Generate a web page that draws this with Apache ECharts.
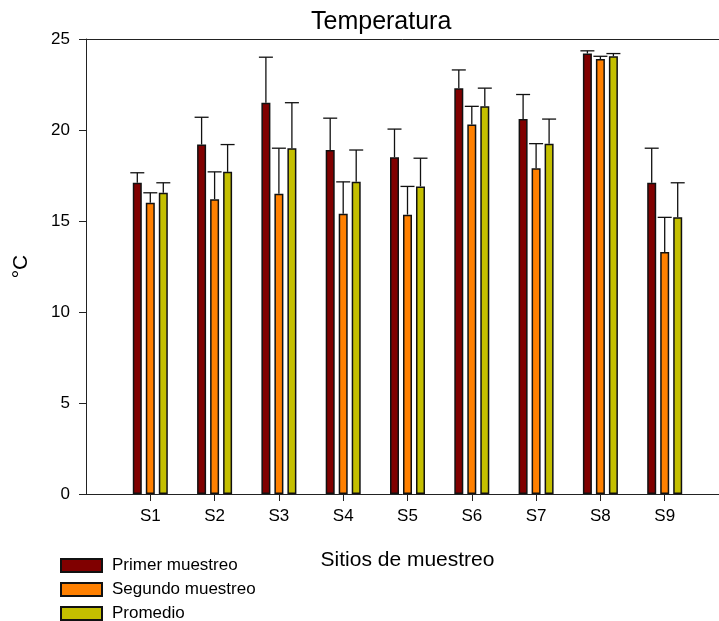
<!DOCTYPE html>
<html>
<head>
<meta charset="utf-8">
<title>Temperatura</title>
<script src="https://cdn.jsdelivr.net/npm/echarts@6/dist/echarts.min.js"></script>
<style>
  html, body { margin: 0; padding: 0; background: #fff; }
  #chart { width: 719px; height: 621px; }
</style>
</head>
<body>
<div id="chart"></div>
<script>
// Sampling sites and temperatures (°C)
const sites = ['S1', 'S2', 'S3', 'S4', 'S5', 'S6', 'S7', 'S8', 'S9'];
const seriesNames = ['Primer muestreo', 'Segundo muestreo', 'Promedio'];
const primer = [17.1, 19.2, 21.5, 18.9, 18.5, 22.3, 20.6, 24.2, 17.1];
const segundo = [16.0, 16.2, 16.5, 15.4, 15.35, 20.3, 17.9, 23.9, 13.3];
const promedio = [16.55, 17.7, 19.0, 17.15, 16.9, 21.3, 19.25, 24.05, 15.2];
// Upper error (standard deviation) for each bar
const errPrimer = [0.55, 1.5, 2.5, 1.75, 1.55, 1.0, 1.35, 0.15, 1.9];
const errSegundo = [0.55, 1.5, 2.5, 1.75, 1.55, 1.0, 1.35, 0.15, 1.9];
const errPromedio = [0.55, 1.5, 2.5, 1.75, 1.55, 1.0, 1.35, 0.15, 1.9];
const yTicks = { min: 0, max: 25, interval: 5 };

const colors = ['#800000', '#FF8000', '#C4BF00'];
const FONT = '"Liberation Sans", Arial, sans-serif';

// One empty slot on each side so the sites sit inside a wider axis
const axisCats = [''].concat(sites, ['']);
const pad = arr => [null].concat(arr, [null]);

const BAR_W = 9;
const PITCH = 13;
const offsets = [-PITCH, 0, PITCH];

function errorSeries(values, errs, k) {
  const data = values.map((v, i) => [i + 1, v, errs[i]]);
  return {
    type: 'custom',
    name: seriesNames[k] + ' error',
    z: 1,
    silent: true,
    renderItem: function (params, api) {
      const idx = api.value(0);
      const top = api.value(1);
      const e = api.value(2);
      const p0 = api.coord([idx, top]);
      const p1 = api.coord([idx, top + e]);
      const x = p0[0] + offsets[k];
      const half = 7;
      const style = { stroke: '#111', lineWidth: 1.3 };
      return {
        type: 'group',
        children: [
          { type: 'line', shape: { x1: x, y1: p0[1], x2: x, y2: p1[1] }, style: style },
          { type: 'line', shape: { x1: x - half, y1: p1[1], x2: x + half, y2: p1[1] }, style: style }
        ]
      };
    },
    data: data
  };
}

function barSeries(values, k) {
  return {
    type: 'bar',
    name: seriesNames[k],
    z: 2,
    barWidth: BAR_W,
    barGap: ((PITCH - BAR_W) / BAR_W * 100) + '%',
    itemStyle: { color: colors[k], borderColor: '#111', borderWidth: 1.5 },
    data: pad(values)
  };
}

// One legend block per row, stacked under the plot
function legendRow(k) {
  return {
    orient: 'vertical',
    left: 60,
    top: 557 + k * 24,
    padding: 0,
    itemWidth: 41,
    itemHeight: 13,
    icon: 'rect',
    data: [seriesNames[k]],
    textStyle: { fontFamily: FONT, fontSize: 17, color: '#000', padding: [0, 0, 0, 5] }
  };
}

const chart = echarts.init(document.getElementById('chart'), null, { renderer: 'canvas' });
chart.setOption({
  animation: false,
  backgroundColor: '#fff',
  title: {
    text: 'Temperatura',
    left: 306,
    top: 5,
    textStyle: { fontFamily: FONT, fontSize: 25, fontWeight: 'normal', color: '#000' }
  },
  legend: [legendRow(0), legendRow(1), legendRow(2)],
  grid: {
    left: 86, top: 39, width: 643, height: 455,
    containLabel: false,
    outerBoundsMode: 'none'
  },
  xAxis: [
    {
      type: 'category',
      data: axisCats,
      boundaryGap: false,
      position: 'bottom',
      name: 'Sitios de muestreo',
      nameLocation: 'middle',
      nameGap: 56,
      nameTextStyle: { fontFamily: FONT, fontSize: 21, color: '#000' },
      axisLine: { show: true, lineStyle: { color: '#222', width: 1 } },
      axisTick: {
        show: true, length: 7, inside: false,
        interval: function (i) { return i >= 1 && i <= sites.length; },
        lineStyle: { color: '#222' }
      },
      axisLabel: {
        interval: 0, margin: 14,
        fontFamily: FONT, fontSize: 17, color: '#000'
      },
      splitLine: { show: false }
    },
    {
      type: 'category',
      data: axisCats,
      boundaryGap: false,
      position: 'top',
      axisLine: { show: true, lineStyle: { color: '#222', width: 1 } },
      axisTick: { show: false },
      axisLabel: { show: false },
      splitLine: { show: false }
    }
  ],
  yAxis: {
    type: 'value',
    min: yTicks.min,
    max: yTicks.max,
    interval: yTicks.interval,
    name: '°C',
    nameLocation: 'middle',
    nameGap: 54,
    nameRotate: 90,
    nameTextStyle: { fontFamily: FONT, fontSize: 21, color: '#000' },
    axisLine: { show: true, lineStyle: { color: '#222', width: 1 } },
    axisTick: { show: true, length: 7, inside: false, lineStyle: { color: '#222' } },
    axisLabel: { margin: 16, fontFamily: FONT, fontSize: 17, color: '#000' },
    splitLine: { show: false }
  },
  series: [
    barSeries(primer, 0),
    barSeries(segundo, 1),
    barSeries(promedio, 2),
    errorSeries(primer, errPrimer, 0),
    errorSeries(segundo, errSegundo, 1),
    errorSeries(promedio, errPromedio, 2)
  ]
});
</script>
</body>
</html>
